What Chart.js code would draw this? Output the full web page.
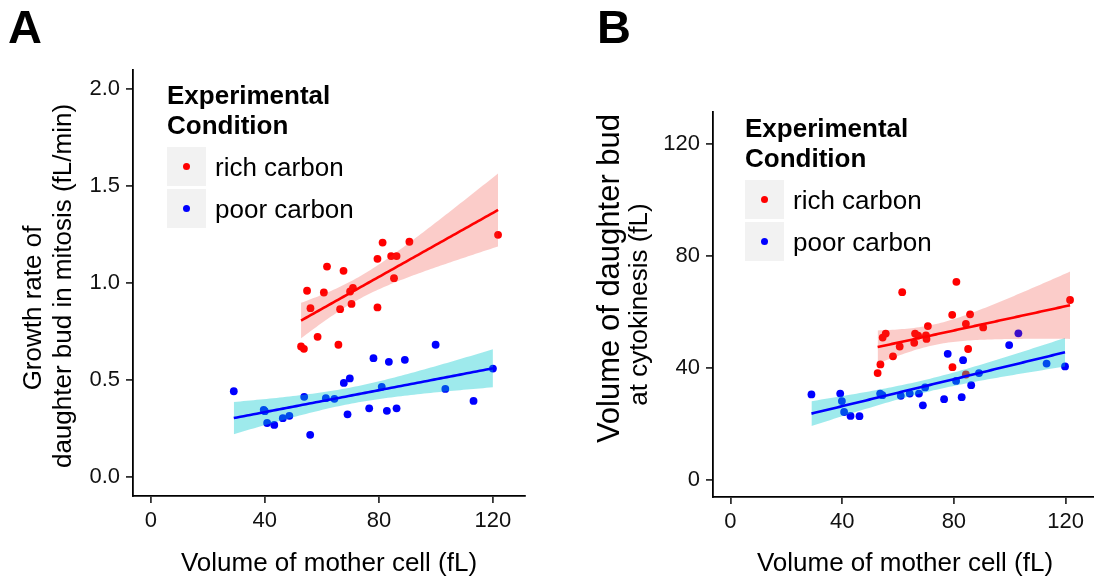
<!DOCTYPE html>
<html>
<head>
<meta charset="utf-8">
<script src="https://cdn.jsdelivr.net/npm/chart.js@4.4.1/dist/chart.umd.min.js"></script>
<style>
  html, body { margin: 0; padding: 0; background: #fff; }
  body { width: 1094px; height: 580px; overflow: hidden; position: relative;
         font-family: "Liberation Sans", Arial, Helvetica, sans-serif; }
  canvas { position: absolute; top: 0; }
  #cA { left: 0; }
  #cB { left: 547px; }
  .tag { position: absolute; font-weight: bold; font-size: 47px; line-height: 47px; color: #000; }
  .lg-title { position: absolute; font-weight: bold; font-size: 26px; line-height: 30px; color: #000; white-space: nowrap; }
  .lg-key { position: absolute; width: 39px; height: 39px; background: #f2f2f2; }
  .lg-dot { position: absolute; width: 7.6px; height: 7.6px; border-radius: 50%; left: 15.7px; top: 15.7px; }
  .lg-label { position: absolute; font-size: 26px; line-height: 30px; color: #000; white-space: nowrap; }
</style>
</head>
<body>
<canvas id="cA" width="547" height="580"></canvas>
<canvas id="cB" width="560" height="580"></canvas>
<div class="tag" style="left:8px; top:3px;">A</div>
<div class="tag" style="left:597px; top:3px;">B</div>
<script>
// ---- data -------------------------------------------------------------
const conditions = ['rich carbon', 'poor carbon'];
const legendTitle = ['Experimental', 'Condition'];
const motherTicks = [0, 40, 80, 120];
const growthTicks = [0, 0.5, 1.0, 1.5, 2.0];
const budVolumeTicks = [0, 40, 80, 120];

// A: growth rate of the bud during mitosis against mother volume
const richMotherA = [121.8, 81.3, 90.7, 61.8, 67.6, 79.5, 84.3, 86.2, 85.3, 54.8, 60.7,
                     69.9, 70.9, 56.0, 66.4, 70.4, 79.5, 58.5, 52.7, 53.7, 65.8];
const richGrowthA = [1.249, 1.209, 1.213, 1.085, 1.063, 1.125, 1.139, 1.139, 1.025, 0.960, 0.951,
                     0.956, 0.975, 0.870, 0.865, 0.892, 0.874, 0.722, 0.672, 0.660, 0.681];
const poorMotherA = [29.1, 39.6, 40.0, 40.8, 43.3, 46.3, 48.6, 55.9, 53.8, 61.4, 64.4, 67.7, 69.8,
                     69.0, 78.1, 83.5, 89.1, 99.9, 81.0, 76.6, 82.8, 86.2, 103.3, 113.2, 120.0];
const poorGrowthA = [0.441, 0.345, 0.338, 0.277, 0.267, 0.302, 0.314, 0.216, 0.412, 0.405, 0.402, 0.484, 0.507,
                     0.322, 0.612, 0.593, 0.603, 0.681, 0.464, 0.353, 0.340, 0.353, 0.453, 0.391, 0.558];

// B: bud volume at cytokinesis against mother volume
const richMotherB = [121.6, 80.9, 61.5, 79.4, 85.8, 84.3, 90.5, 70.7, 66.1, 67.2, 70.0,
                     70.2, 65.8, 55.6, 54.5, 60.6, 58.2, 53.7, 52.7, 85.1, 79.5, 84.3];
const richBudB    = [64.1, 70.6, 66.9, 58.8, 59.0, 55.6, 54.3, 54.8, 52.1, 51.4, 51.5,
                     50.2, 48.8, 52.1, 50.7, 47.5, 44.0, 41.1, 38.0, 46.6, 40.1, 37.5];
const poorMotherB = [29.0, 39.3, 39.9, 40.7, 43.0, 46.2, 53.6, 54.4, 61.0, 64.2, 67.5, 69.7,
                     68.9, 77.8, 83.3, 80.8, 76.5, 82.8, 86.2, 89.0, 99.8, 113.2, 119.8, 103.1];
const poorBudB    = [30.4, 30.7, 28.0, 24.1, 22.7, 22.6, 30.7, 30.1, 29.9, 30.7, 30.7, 32.9,
                     26.5, 44.9, 42.6, 35.2, 28.7, 29.4, 33.7, 38.0, 48.0, 41.4, 40.4, 52.2];

// ---- style ------------------------------------------------------------
const FONT = '"Liberation Sans", Arial, Helvetica, sans-serif';
const pointColors = ['#ff0000', '#0000ff'];
const bandColors = ['rgba(240, 50, 40, 0.25)', 'rgba(0, 200, 205, 0.38)'];

// ---- linear model with 95% confidence band (as in geom_smooth(method = "lm")) ----
function tCritical(df) {
  const z = 1.959963985, z3 = z * z * z, z5 = z3 * z * z, z7 = z5 * z * z;
  return z + (z3 + z) / (4 * df) + (5 * z5 + 16 * z3 + 3 * z) / (96 * df * df)
           + (3 * z7 + 19 * z5 + 17 * z3 - 15 * z) / (384 * df * df * df);
}

function lmBand(xs, ys, steps) {
  const n = xs.length;
  const mx = xs.reduce((s, v) => s + v, 0) / n;
  const my = ys.reduce((s, v) => s + v, 0) / n;
  let sxx = 0, sxy = 0;
  for (let i = 0; i < n; i++) { sxx += (xs[i] - mx) ** 2; sxy += (xs[i] - mx) * (ys[i] - my); }
  const slope = sxy / sxx, icpt = my - slope * mx;
  let sse = 0;
  for (let i = 0; i < n; i++) sse += (ys[i] - icpt - slope * xs[i]) ** 2;
  const s = Math.sqrt(sse / (n - 2)), t = tCritical(n - 2);
  const lo = Math.min(...xs), hi = Math.max(...xs);
  const line = [], upper = [], lower = [];
  for (let k = 0; k < steps; k++) {
    const x = lo + (hi - lo) * k / (steps - 1);
    const y = icpt + slope * x;
    const se = s * Math.sqrt(1 / n + (x - mx) ** 2 / sxx);
    line.push({ x, y }); upper.push({ x, y: y + t * se }); lower.push({ x, y: y - t * se });
  }
  return { line, upper, lower };
}

function buildDatasets(groups) {
  const lines = [], bands = [], points = [];
  groups.forEach((g, gi) => {
    const f = lmBand(g.xs, g.ys, 80);
    lines.push({ label: conditions[gi] + ' fit', data: f.line, showLine: true, tension: 0,
                 borderColor: pointColors[gi], borderWidth: 2.6, pointRadius: 0, fill: false, order: 0 });
    bands.push({ data: f.upper, showLine: true, borderColor: 'rgba(0,0,0,0)', borderWidth: 0,
                 pointRadius: 0, fill: false, order: 1 });
    bands.push({ data: f.lower, showLine: true, borderColor: 'rgba(0,0,0,0)', borderWidth: 0,
                 pointRadius: 0, fill: '-1', backgroundColor: bandColors[gi], order: 1 });
    points.push({ label: conditions[gi], data: g.xs.map((x, i) => ({ x, y: g.ys[i] })), showLine: false,
                  pointRadius: 3.9, pointBackgroundColor: pointColors[gi], pointBorderColor: pointColors[gi],
                  pointBorderWidth: 0, order: 2 });
  });
  return [...lines, ...bands, ...points];
}

function setTicks(values) {
  return scale => { scale.ticks = values.map(v => ({ value: v })); };
}

// Rotated y-axis title, one entry per line: x = text middle in canvas px,
// dy = offset from the vertical centre of the plot area, size = font px.
const yTitlePlugin = {
  id: 'yTitleLines',
  afterDraw(chart, args, opts) {
    const { ctx, chartArea } = chart;
    const cy = (chartArea.top + chartArea.bottom) / 2;
    (opts.lines || []).forEach(l => {
      ctx.save();
      ctx.translate(l.x, cy + l.dy);
      ctx.rotate(-Math.PI / 2);
      ctx.font = l.size + 'px ' + FONT;
      ctx.fillStyle = '#000';
      ctx.textAlign = 'center';
      ctx.textBaseline = 'middle';
      ctx.fillText(l.text, 0, 0);
      ctx.restore();
    });
  }
};

const axisGrid = { drawOnChartArea: false, drawTicks: true, tickLength: 7, color: '#333', lineWidth: 1.8 };
const axisBorder = { display: true, color: '#000', width: 1.8 };
const tickFont = { family: FONT, size: 22 };
const titleFont = { family: FONT, size: 26, lineHeight: 1.15 };

function makeChart(id, cfg) {
  return new Chart(document.getElementById(id), {
    type: 'line',
    data: { datasets: buildDatasets(cfg.groups) },
    plugins: [yTitlePlugin],
    options: {
      responsive: false, animation: false, events: [],
      layout: { padding: { top: cfg.top, right: cfg.right, left: 0, bottom: 0 } },
      plugins: { legend: { display: false }, tooltip: { enabled: false },
                 yTitleLines: { lines: cfg.yTitle } },
      scales: {
        x: {
          type: 'linear', min: -6.25, max: 131.25,
          afterBuildTicks: setTicks(motherTicks),
          afterFit: s => { s.height = cfg.xHeight; },
          grid: axisGrid, border: axisBorder,
          ticks: { font: tickFont, color: '#111', padding: 5, maxRotation: 0, autoSkip: false },
          title: { display: true, text: 'Volume of mother cell (fL)', font: titleFont, color: '#000',
                   padding: { top: 0, bottom: 1 } }
        },
        y: {
          type: 'linear', min: cfg.yMin, max: cfg.yMax,
          afterBuildTicks: setTicks(cfg.yTicks),
          afterFit: s => { s.width = cfg.yWidth; },
          grid: axisGrid, border: axisBorder,
          ticks: { font: tickFont, color: '#111', padding: 6, autoSkip: false, callback: cfg.yFormat },
          title: { display: false }
        }
      }
    }
  });
}

makeChart('cA', {
  groups: [{ xs: richMotherA, ys: richGrowthA }, { xs: poorMotherA, ys: poorGrowthA }],
  top: 70, right: 22, xHeight: 84, yWidth: 133,
  yMin: -0.1, yMax: 2.1, yTicks: growthTicks, yFormat: v => v.toFixed(1),
  yTitle: [
    { text: 'Growth rate of', x: 34, dy: 25, size: 26 },
    { text: 'daughter bud in mitosis (fL/min)', x: 64, dy: 3, size: 26 }
  ]
});

makeChart('cB', {
  groups: [{ xs: richMotherB, ys: richBudB }, { xs: poorMotherB, ys: poorBudB }],
  top: 112, right: 10, xHeight: 83, yWidth: 166,
  yMin: -6.25, yMax: 131.25, yTicks: budVolumeTicks, yFormat: v => String(v),
  yTitle: [
    { text: 'Volume of daughter bud', x: 63, dy: -26, size: 31 },
    { text: 'at cytokinesis (fL)', x: 93, dy: 0, size: 26 }
  ]
});

// ---- legends (inside each panel) -------------------------------------
function buildLegend(left, top) {
  const title = document.createElement('div');
  title.className = 'lg-title';
  title.style.left = left + 'px';
  title.style.top = top + 'px';
  title.innerHTML = legendTitle.join('<br>');
  document.body.appendChild(title);
  conditions.forEach((name, i) => {
    const keyTop = top + 67 + i * 42;
    const key = document.createElement('div');
    key.className = 'lg-key';
    key.style.left = left + 'px';
    key.style.top = keyTop + 'px';
    const dot = document.createElement('div');
    dot.className = 'lg-dot';
    dot.style.background = pointColors[i];
    key.appendChild(dot);
    document.body.appendChild(key);
    const label = document.createElement('div');
    label.className = 'lg-label';
    label.style.left = (left + 48) + 'px';
    label.style.top = (keyTop + 5) + 'px';
    label.textContent = name;
    document.body.appendChild(label);
  });
}
buildLegend(167, 80);
buildLegend(745, 113);
</script>
</body>
</html>
